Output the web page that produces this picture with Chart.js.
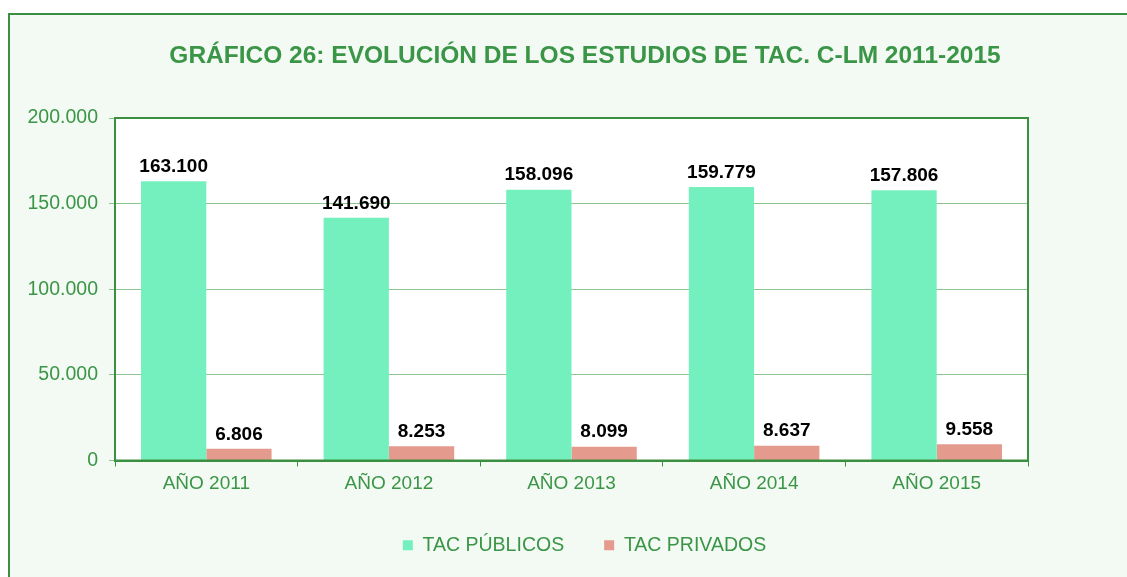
<!DOCTYPE html>
<html>
<head>
<meta charset="utf-8">
<script src="https://cdn.jsdelivr.net/npm/chart.js@4.4.1/dist/chart.umd.min.js"></script>
<style>
  html, body { margin: 0; padding: 0; background: #f3f9f3; }
  #wrap { width: 1127px; height: 577px; }
</style>
</head>
<body>
<div id="wrap"><canvas id="chartArea" width="1127" height="577"></canvas></div>
<script>
const years = ["AÑO 2011", "AÑO 2012", "AÑO 2013", "AÑO 2014", "AÑO 2015"];
const tacPublicos = [163100, 141690, 158096, 159779, 157806];
const tacPrivados = [6806, 8253, 8099, 8637, 9558];
const seriesNames = ["TAC PÚBLICOS", "TAC PRIVADOS"];
const chartTitle = "GRÁFICO 26: EVOLUCIÓN DE LOS ESTUDIOS DE TAC. C-LM 2011-2015";

const green = "#3a9646";
const frame = "#3a9040";
const family = "'Liberation Sans', Arial, sans-serif";
const fmt = v => String(v).replace(/\B(?=(\d{3})+(?!\d))/g, ".");

// background, outer frame, title, white plot area with border, value labels
const decor = {
    id: "decor",
    beforeDraw(chart) {
        const c = chart.ctx, a = chart.chartArea;
        c.save();
        c.fillStyle = "#ffffff";
        c.fillRect(0, 0, chart.width, chart.height);
        c.fillStyle = "#f3f9f3";
        c.fillRect(9, 13, chart.width, chart.height);
        c.strokeStyle = frame;
        c.lineWidth = 2;
        c.strokeRect(9, 14, chart.width + 20, chart.height + 20);
        c.fillStyle = "#ffffff";
        c.fillRect(a.left, a.top, a.right - a.left, a.bottom - a.top);
        c.fillStyle = green;
        c.font = "bold 24.5px " + family;
        c.textAlign = "center";
        c.textBaseline = "middle";
        c.fillText(chartTitle, 585, 56);
        c.restore();
    },
    afterDatasetsDraw(chart) {
        const c = chart.ctx, a = chart.chartArea;
        c.save();
        c.strokeStyle = frame;
        c.lineWidth = 2;
        c.strokeRect(a.left, a.top, a.right - a.left, a.bottom - a.top);
        c.fillStyle = "#000000";
        c.font = "bold 19px " + family;
        c.textAlign = "center";
        c.textBaseline = "bottom";
        chart.data.datasets.forEach((ds, i) => {
            chart.getDatasetMeta(i).data.forEach((bar, j) => {
                c.fillText(fmt(ds.data[j]), bar.x, bar.y - 5);
            });
        });
        c.restore();
    }
};

new Chart(document.getElementById("chartArea"), {
    type: "bar",
    data: {
        labels: years,
        datasets: [
            { label: seriesNames[0], data: tacPublicos, backgroundColor: "#74f0be" },
            { label: seriesNames[1], data: tacPrivados, backgroundColor: "#e59a8e" }
        ]
    },
    options: {
        responsive: false,
        animation: false,
        // uneven side padding so the full-width legend is centred like the original
        layout: { padding: { left: 26, right: -16, top: 118, bottom: 12 } },
        datasets: { bar: { categoryPercentage: 0.715, barPercentage: 1.0 } },
        plugins: {
            legend: {
                position: "bottom",
                labels: {
                    boxWidth: 10, boxHeight: 10, padding: 40,
                    color: green,
                    font: { family: family, size: 19.5 }
                }
            },
            tooltip: { enabled: false }
        },
        scales: {
            x: {
                afterFit: s => { s.height = 35; },
                grid: { display: true, drawOnChartArea: false, tickLength: 6, color: frame, offset: true },
                border: { color: frame, width: 2 },
                ticks: { color: green, padding: 6, font: { family: family, size: 19 } }
            },
            y: {
                min: 0, max: 200000,
                afterFit: s => { s.width = 89; },
                grid: { color: "#8cc490", tickLength: 6 },
                border: { color: frame, width: 2 },
                ticks: {
                    stepSize: 50000, color: green, padding: 11,
                    font: { family: family, size: 19.5 },
                    callback: v => fmt(v)
                }
            },
            spacer: {
                type: "linear",
                position: "right",
                afterFit: s => { s.width = 115; },
                grid: { display: false },
                border: { display: false },
                ticks: { display: false }
            }
        }
    },
    plugins: [decor]
});
</script>
</body>
</html>
